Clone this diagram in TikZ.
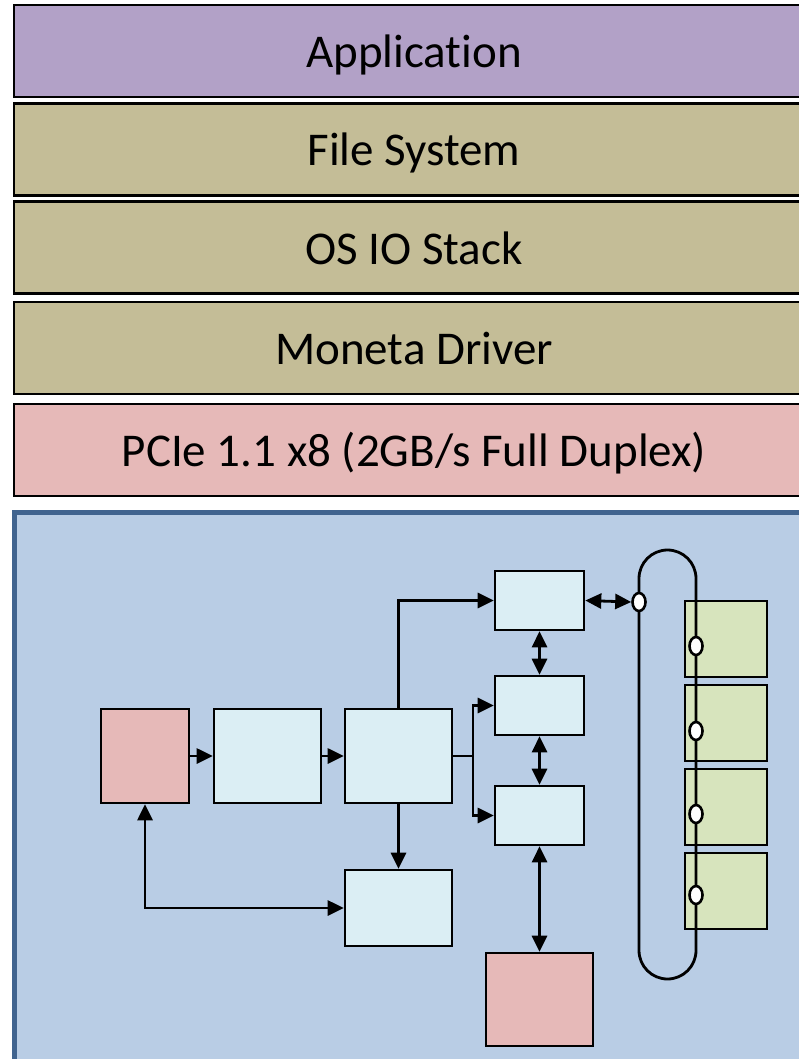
\documentclass[tikz,border=0pt]{standalone}
\usepackage{fontspec}
\setmainfont{Carlito}[Ligatures=NoCommon]
\usetikzlibrary{arrows.meta,shapes.geometric}

\definecolor{appviolet}{HTML}{B2A1C7}
\definecolor{layertan}{HTML}{C4BD97}
\definecolor{pcierose}{HTML}{E6B9B8}
\definecolor{boardblue}{HTML}{B9CDE5}
\definecolor{boardedge}{HTML}{41648F}
\definecolor{unitblue}{HTML}{DBEEF4}
\definecolor{bankgreen}{HTML}{D7E4BD}

\tikzset{
  layer/.style={draw=black, line width=2.5pt, minimum width=800pt, minimum height=92pt,
                inner sep=0pt, text height=33pt, text depth=0pt, font=\fontsize{47}{52}\selectfont},
  unit/.style={draw=black, line width=2.6pt, fill=unitblue, inner sep=0pt},
  bank/.style={draw=black, line width=2.6pt, fill=bankgreen, inner sep=0pt,
               minimum width=82pt, minimum height=76pt},
  port/.style={ellipse, draw=black, line width=2.6pt, fill=white, inner sep=0pt,
               minimum width=13pt, minimum height=18pt},
  link/.style={line width=2.8pt, -{Triangle[length=16pt,width=15pt]}},
  dlink/.style={line width=2.8pt, {Triangle[length=16pt,width=15pt]}-{Triangle[length=16pt,width=15pt]}}
}

\begin{document}
\begin{tikzpicture}[x=1pt, y=-1pt]
    \clip (0,0) rectangle (799,1059);
    \useasboundingbox (0,0) rectangle (799,1059);
    \fill[white] (0,0) rectangle (799,1059);

    % software stack
    \node[layer, fill=appviolet] (app)    at (414,51)  {Application};
    \node[layer, fill=layertan]  (fs)     at (414,149.5) {File System};
    \node[layer, fill=layertan]  (iostk)  at (414,247.5) {OS IO Stack};
    \node[layer, fill=layertan]  (driver) at (414,348) {Moneta Driver};
    \node[layer, fill=pcierose]  (pcie)   at (414,450) {PCIe 1.1 x8 (2GB/s Full Duplex)};

    % hardware board
    \draw[line width=5pt, draw=boardedge, fill=boardblue] (14.5,512) rectangle (830,1080);

    \node[unit, fill=pcierose, minimum width=88pt, minimum height=94pt] (host) at (145,756) {};
    \node[unit, minimum width=107pt, minimum height=94pt] (dma)    at (267.5,756) {};
    \node[unit, minimum width=107pt, minimum height=94pt] (ctrl)   at (398.5,756) {};
    \node[unit, minimum width=107pt, minimum height=76pt] (status) at (398.5,908) {};
    \node[unit, minimum width=89pt, minimum height=59pt]  (bufa)   at (539.5,600.5) {};
    \node[unit, minimum width=89pt, minimum height=59pt]  (bufb)   at (539.5,705.5) {};
    \node[unit, minimum width=89pt, minimum height=59pt]  (bufc)   at (539.5,815.5) {};
    \node[unit, fill=pcierose, minimum width=107pt, minimum height=93pt] (misc) at (539.5,999.5) {};

    % memory banks on the ring
    \node[bank] (bank1) at (726,639) {};
    \node[bank] (bank2) at (726,723) {};
    \node[bank] (bank3) at (726,807) {};
    \node[bank] (bank4) at (726,891) {};

    \draw[line width=2.8pt] (639,950.5) -- (639,578.5) arc[start angle=180, end angle=360, radius=28.5]
        -- (696,950.5) arc[start angle=0, end angle=180, radius=28.5];

    \node[port] (port0) at (639,602) {};
    \node[port] (port1) at (696,646) {};
    \node[port] (port2) at (696,731) {};
    \node[port] (port3) at (696,814) {};
    \node[port] (port4) at (696,895) {};

    % connectors
    \draw[link] (host) -- (dma);
    \draw[link] (dma) -- (ctrl);
    \draw[link] (ctrl.north) |- (bufa.west);
    \draw[link] (ctrl.south) -- (status.north);
    \draw[dlink] (host.south) |- (status.west);
    \coordinate (fork) at (473,756);
    \draw[line width=2.8pt] (ctrl.east) -- (fork);
    \draw[link] (fork) |- (bufb.west);
    \draw[link] (fork) |- (bufc.west);
    \draw[dlink] (bufa) -- (bufb);
    \draw[dlink] (bufb) -- (bufc);
    \draw[dlink] (bufc) -- (misc);
    \draw[dlink] (bufa.east) -- (port0.west);
\end{tikzpicture}
\end{document}
